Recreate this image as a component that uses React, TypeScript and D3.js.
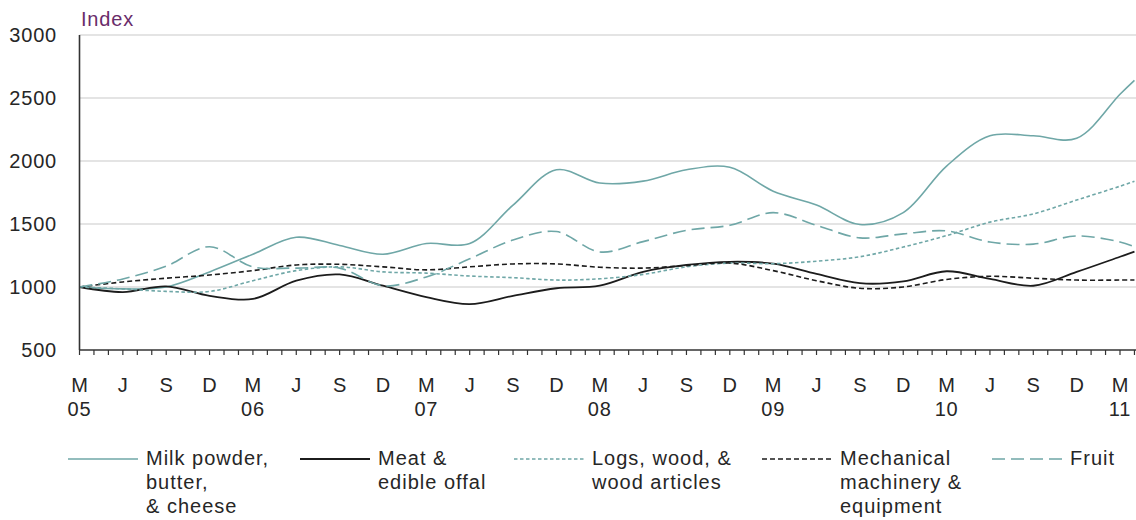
import React from "react";
import * as d3 from "d3";

// month index: 0 = March 2005
const monthIndex = [0, 3, 6, 9, 12, 15, 18, 21, 24, 27, 30, 33, 36, 39, 42, 45, 48, 51, 54, 57, 60, 63, 66, 69, 72, 73];
const quarterLabels = ["M", "J", "S", "D", "M", "J", "S", "D", "M", "J", "S", "D", "M", "J", "S", "D", "M", "J", "S", "D", "M", "J", "S", "D", "M"];
const yearLabels = ["05", "06", "07", "08", "09", "10", "11"];
const yTicks = [500, 1000, 1500, 2000, 2500, 3000];

const milk = [1000, 985, 1000, 1120, 1260, 1395, 1330, 1260, 1345, 1345, 1650, 1930, 1825, 1840, 1930, 1950, 1760, 1650, 1496, 1590, 1960, 2200, 2200, 2180, 2530, 2640];
const meat = [1000, 960, 1005, 930, 905, 1050, 1100, 1010, 920, 864, 930, 990, 1010, 1120, 1175, 1200, 1185, 1104, 1030, 1044, 1125, 1064, 1010, 1120, 1240, 1280];
const logs = [1000, 985, 965, 965, 1050, 1130, 1160, 1120, 1110, 1087, 1074, 1055, 1065, 1100, 1160, 1190, 1185, 1205, 1240, 1317, 1408, 1515, 1580, 1690, 1800, 1840];
const mech = [1000, 1040, 1070, 1095, 1130, 1175, 1180, 1160, 1136, 1160, 1183, 1183, 1157, 1150, 1170, 1190, 1130, 1050, 990, 1000, 1060, 1085, 1070, 1055, 1055, 1055];
const fruit = [1000, 1064, 1165, 1320, 1160, 1150, 1150, 1010, 1080, 1224, 1373, 1440, 1278, 1360, 1450, 1490, 1590, 1490, 1390, 1422, 1445, 1357, 1340, 1405, 1357, 1320];

const seriesNames = [
  ["Milk powder,", "butter,", "& cheese"],
  ["Meat &", "edible offal"],
  ["Logs, wood, &", "wood articles"],
  ["Mechanical", "machinery &", "equipment"],
  ["Fruit"],
];
const seriesValues = [milk, meat, logs, mech, fruit];

const TEAL = "#6fa7a7";
const styles = [
  { color: TEAL, width: 1.6, dash: "" },
  { color: "#1c1c1c", width: 1.8, dash: "" },
  { color: TEAL, width: 1.6, dash: "3.5,2.5" },
  { color: "#1c1c1c", width: 1.6, dash: "5,3" },
  { color: TEAL, width: 1.6, dash: "13,6" },
];
const legendX = [68, 300, 514, 762, 992];
const legendLen = 70;

const W = 1136;
const H = 520;
const FONT = "'Liberation Sans', Arial, sans-serif";
const TEXT = "#262626";

export default function App() {
  const x = d3.scaleLinear().domain([0, 72]).range([79.5, 1120]);
  const y = d3.scaleLinear().domain([500, 3000]).range([350, 35]);
  const line = d3
    .line<number>()
    .x((_, i) => x(monthIndex[i]))
    .y((d) => y(d))
    .curve(d3.curveCatmullRom.alpha(0.5));

  const allMonths = d3.range(0, 74);

  return (
    <svg
      width={W}
      height={H}
      style={{ position: "absolute", left: 0, top: 0, display: "block", background: "#fff" }}
      fontFamily={FONT}
    >
      <rect x={0} y={0} width={W} height={H} fill="#fff" />
      {/* gridlines */}
      {yTicks
        .filter((t) => t > 500)
        .map((t) => (
          <line key={t} x1={x(0)} x2={W} y1={y(t)} y2={y(t)} stroke="#c9c9c9" strokeWidth={1.2} />
        ))}
      {/* y labels */}
      {yTicks.map((t) => (
        <text
          key={t}
          x={57}
          y={y(t)}
          dy="0.36em"
          textAnchor="end"
          fontSize={20}
          letterSpacing={0.8}
          fill={TEXT}
        >
          {t}
        </text>
      ))}
      <text x={81} y={26} fontSize={20} letterSpacing={0.8} fill="#6a2c6a">
        Index
      </text>
      {/* series */}
      <g>
        {seriesValues.map((vals, i) => (
          <path
            key={i}
            d={line(vals) || ""}
            fill="none"
            stroke={styles[i].color}
            strokeWidth={styles[i].width}
            strokeDasharray={styles[i].dash}
          />
        ))}
      </g>
      {/* axes */}
      <line x1={x(0)} x2={x(0)} y1={y(3000)} y2={y(500)} stroke="#333" strokeWidth={1.6} />
      <line x1={x(0)} x2={W} y1={y(500)} y2={y(500)} stroke="#333" strokeWidth={1.6} />
      {allMonths.map((m) => (
        <line key={m} x1={x(m)} x2={x(m)} y1={y(500)} y2={y(500) + 5} stroke="#333" strokeWidth={1.2} />
      ))}
      {quarterLabels.map((l, i) => (
        <text key={i} x={x(i * 3)} y={392} textAnchor="middle" fontSize={20} fill={TEXT}>
          {l}
        </text>
      ))}
      {yearLabels.map((l, i) => (
        <text key={l} x={x(i * 12)} y={416} textAnchor="middle" fontSize={20} letterSpacing={0.8} fill={TEXT}>
          {l}
        </text>
      ))}
      {/* legend */}
      {seriesNames.map((lines, i) => (
        <g key={i}>
          <line
            x1={legendX[i]}
            x2={legendX[i] + legendLen}
            y1={459}
            y2={459}
            stroke={styles[i].color}
            strokeWidth={styles[i].width}
            strokeDasharray={styles[i].dash}
          />
          {lines.map((t, j) => (
            <text
              key={j}
              x={legendX[i] + legendLen + 8}
              y={465 + j * 24}
              fontSize={20}
              letterSpacing={1}
              fill={TEXT}
            >
              {t}
            </text>
          ))}
        </g>
      ))}
    </svg>
  );
}
